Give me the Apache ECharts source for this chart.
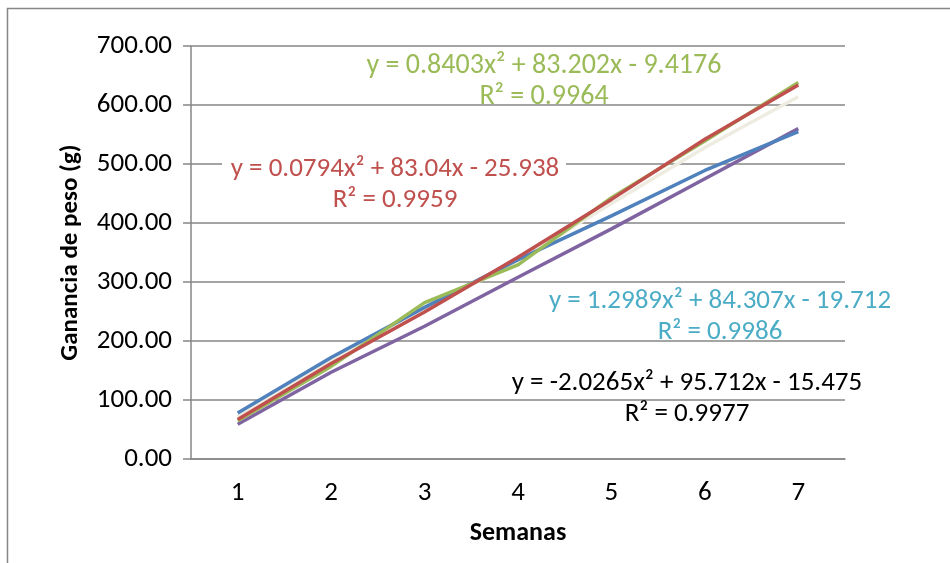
<!DOCTYPE html>
<html>
<head>
<meta charset="utf-8">
<script src="https://cdn.jsdelivr.net/npm/echarts@6/dist/echarts.min.js"></script>
<style>html,body{margin:0;padding:0;background:#fff}#c{width:950px;height:563px}</style>
</head>
<body>
<div id="c"></div>
<script>
const categories = ['1', '2', '3', '4', '5', '6', '7'];
const yTicks = [0, 100, 200, 300, 400, 500, 600, 700];
const greenSeries = [65, 157, 265, 329, 443, 539, 638];
const redSeries = [67, 162, 249, 342, 440, 542, 634];
const blueSeries = [78, 172, 257, 338, 412, 489, 555];
const purpleSeries = [59, 147, 225, 308, 390, 475, 560];
const creamSeries = [73, 167, 253, 336, 433, 528, 614];
const labelGreen = ['y = 0.8403x² + 83.202x - 9.4176', 'R² = 0.9964'];
const labelRed = ['y = 0.0794x² + 83.04x - 25.938', 'R² = 0.9959'];
const labelCyan = ['y = 1.2989x² + 84.307x - 19.712', 'R² = 0.9986'];
const labelBlack = ['y = -2.0265x² + 95.712x - 15.475', 'R² = 0.9977'];

const FONT = 'Carlito, "Liberation Sans", sans-serif';
const chart = echarts.init(document.getElementById('c'), null, {renderer: 'canvas'});

function lineSeries(name, data, color, z) {
  return {
    name, type: 'line', data, symbol: 'none', z,
    lineStyle: {color, width: 3.5},
    emphasis: {disabled: true}
  };
}
function eqText(lines, cx, cy, color, size) {
  return {
    type: 'text', x: cx, y: cy, z: 100,
    style: {
      text: lines.join('\n'), fill: color, font: (size || 27) + 'px ' + FONT,
      align: 'center', verticalAlign: 'middle', lineHeight: 31
    }
  };
}

chart.setOption({
  animation: false,
  backgroundColor: '#fff',
  grid: {left: 191, right: 105, top: 46, bottom: 104},
  xAxis: {
    type: 'category', data: categories, boundaryGap: true,
    axisLine: {lineStyle: {color: '#868686', width: 1.5}},
    axisTick: {show: false},
    axisLabel: {color: '#000', fontSize: 27, fontFamily: FONT, margin: 21},
    name: 'Semanas', nameLocation: 'middle', nameGap: 61,
    nameTextStyle: {color: '#000', fontSize: 26, fontWeight: 'bold', fontFamily: FONT}
  },
  yAxis: {
    type: 'value', min: yTicks[0], max: yTicks[yTicks.length - 1], interval: 100,
    axisLine: {show: true, lineStyle: {color: '#868686', width: 1.5}},
    axisTick: {show: true, inside: false, length: 8, lineStyle: {color: '#868686', width: 1.5}},
    splitLine: {lineStyle: {color: '#868686', width: 1.5}},
    axisLabel: {color: '#000', fontSize: 27, fontFamily: FONT, margin: 19,
      formatter: v => v.toFixed(2)},
    name: 'Ganancia de peso (g)', nameLocation: 'middle', nameGap: 108, nameRotate: 90,
    nameTextStyle: {color: '#000', fontSize: 25, fontWeight: 'bold', fontFamily: FONT}
  },
  series: [
    lineSeries('cream', creamSeries, '#EEECE1', 2),
    lineSeries('purple', purpleSeries, '#8064A2', 3),
    lineSeries('blue', blueSeries, '#4F81BD', 4),
    lineSeries('green', greenSeries, '#9BBB59', 5),
    lineSeries('red', redSeries, '#C0504D', 6)
  ],
  graphic: [
    {type: 'rect', silent: true, z: -10,
      shape: {x: 7.5, y: 8.5, width: 960, height: 600},
      style: {fill: 'none', stroke: '#868686', lineWidth: 1.5}},
    {type: 'rect', z: 90, shape: {x: 222, y: 155, width: 344, height: 62}, style: {fill: '#fff'}},
    eqText(labelGreen, 544, 81, '#9BBB59', 28),
    eqText(labelRed, 395, 185, '#C0504D'),
    eqText(labelCyan, 720, 317, '#4BACC6'),
    eqText(labelBlack, 687, 399, '#000000')
  ]
});
</script>
</body>
</html>
